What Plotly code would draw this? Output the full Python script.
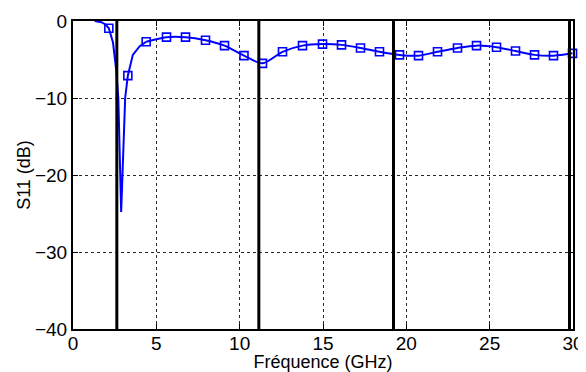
import plotly.graph_objects as go

# Data
dip_freq = [1.3, 1.7, 1.95, 2.15, 2.4, 2.6, 2.72, 2.89, 3.13, 3.29, 3.59, 3.99, 4.39]
dip_s11 = [0.0, -0.15, -0.45, -0.95, -2.8, -6.5, -10.0, -24.8, -10.0, -7.1, -4.4, -3.3, -2.7]

marker_freq = [2.15, 3.29, 4.39, 5.61, 6.75, 7.95, 9.09, 10.26, 11.37, 12.57, 13.77,
               14.97, 16.11, 17.25, 18.39, 19.59, 20.73, 21.87, 23.07, 24.21, 25.41,
               26.55, 27.69, 28.83, 29.97]
marker_s11 = [-0.95, -7.1, -2.7, -2.1, -2.1, -2.5, -3.2, -4.5, -5.5, -4.0, -3.2,
              -3.0, -3.1, -3.5, -4.0, -4.4, -4.5, -4.0, -3.5, -3.2, -3.4,
              -3.9, -4.4, -4.5, -4.2]

vlines_freq = [2.63, 11.15, 19.23, 29.79]

x_ticks = [0, 5, 10, 15, 20, 25, 30]
y_ticks = [0, -10, -20, -30, -40]
y_tick_labels = ["0", "\u221210", "\u221220", "\u221230", "\u221240"]

BLUE = "rgb(0,0,255)"
FONT = "Liberation Sans, Arial, Helvetica, sans-serif"

fig = go.Figure()

# Dip region (sharp, linear)
fig.add_trace(go.Scatter(x=dip_freq, y=dip_s11, mode="lines",
                         line=dict(color=BLUE, width=2), showlegend=False,
                         hoverinfo="skip"))
# Remaining smooth curve through the marker points
rest_idx = [i for i, f in enumerate(marker_freq) if f >= 4.39]
fig.add_trace(go.Scatter(x=[marker_freq[i] for i in rest_idx],
                         y=[marker_s11[i] for i in rest_idx],
                         mode="lines", line=dict(color=BLUE, width=2, shape="spline",
                                                 smoothing=0.8),
                         showlegend=False, hoverinfo="skip"))
# Markers
fig.add_trace(go.Scatter(x=marker_freq, y=marker_s11, mode="markers",
                         marker=dict(symbol="square-open", size=8, color=BLUE,
                                     line=dict(color=BLUE, width=1.6)),
                         showlegend=False, cliponaxis=False))
# Vertical black lines
for v in vlines_freq:
    fig.add_trace(go.Scatter(x=[v, v], y=[-40, 0], mode="lines",
                             line=dict(color="black", width=3), showlegend=False,
                             hoverinfo="skip"))

axis_common = dict(
    showline=True, linecolor="black", linewidth=2, mirror="ticks",
    ticks="inside", ticklen=5, tickwidth=1, tickcolor="black",
    showgrid=True, gridcolor="rgb(40,40,40)", gridwidth=1, griddash="dot",
    zeroline=False, automargin=False,
    tickfont=dict(family=FONT, size=19, color="black"),
)

fig.update_xaxes(range=[0, 30], tickvals=x_ticks, ticktext=[str(t) for t in x_ticks],
                 ticklabelstandoff=-4,
                 title=dict(text="Fréquence (GHz)", standoff=2,
                            font=dict(family=FONT, size=18, color="black")),
                 **axis_common)
fig.update_yaxes(range=[-40, 0], tickvals=y_ticks, ticktext=y_tick_labels,
                 ticklabelstandoff=0,
                 title=dict(text="S11 (dB)", standoff=0,
                            font=dict(family=FONT, size=18, color="black")),
                 **axis_common)

# The page adds an 8px body margin, so the figure is sized to fit the window
fig.update_layout(
    width=578, height=364,
    margin=dict(l=65, r=13, t=13, b=43),
    paper_bgcolor="white", plot_bgcolor="white",
    showlegend=False,
)

fig.write_html("out.html")
